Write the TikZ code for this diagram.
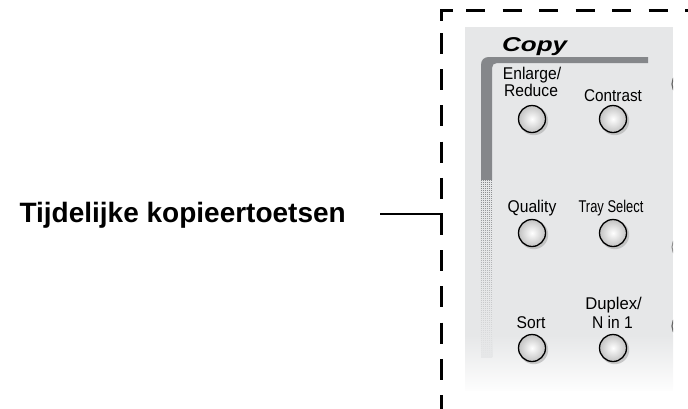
\documentclass[tikz,border=0pt]{standalone}
\usepackage{fontspec}
\setmainfont{Liberation Sans}
\usepackage{graphicx}
\definecolor{panel}{HTML}{E6E7E8}
\definecolor{framegray}{HTML}{85878A}
\begin{document}
\begin{tikzpicture}[x=1pt,y=-1pt,
  lbl/.style={font=\fontsize{17}{19}\selectfont, inner sep=0pt, anchor=base},
  btn/.style={circle, draw=black, line width=1.3pt, minimum size=27pt, inner sep=0pt, inner color=white, outer color=black!24},
  shadowdisk/.style={fill=black!35, opacity=0.55},
  dashline/.style={line width=3pt, black},
  leader/.style={line width=2.4pt, black}
]
\useasboundingbox (0,0) rectangle (688,408);
\clip (0,0) rectangle (688,408);

% panel
\fill[panel] (465,27) rectangle (673,390);
\shade[top color=panel, bottom color=white!92!panel] (465,335) rectangle (673,390);

% frame
\fill[framegray] (481,180) -- (481,65) .. controls (481,60) and (484,57) .. (489,57) -- (648,57) -- (648,63) -- (497,63) .. controls (494,63) and (492,65) .. (492,68) -- (492,180) -- cycle;
\shade[top color=framegray, bottom color=panel] (481,180) rectangle (492,357);
\foreach \yy in {181,183,...,357} \draw[panel, line width=0.5pt] (481,\yy) -- (492,\yy);
\foreach \xx in {482,484,...,492} \draw[panel, line width=0.5pt] (\xx,180) -- (\xx,357);

% slivers of next column buttons
\begin{scope}
\clip (465,27) rectangle (673,390);
\draw[black!60, line width=1.2pt] (685,84) circle (13);
\draw[black!45, line width=1pt] (685,247) circle (13);
\draw[black!60, line width=1.2pt] (685,326) circle (13);
\end{scope}

% Copy title
\node[font=\bfseries\itshape\fontsize{20}{22}\selectfont, anchor=base west, inner sep=0pt] (copy) at (502,51) {\scalebox{1.3}[1]{Copy}};

% labels
\node[lbl] (l1a) at (532,79) {\scalebox{0.92}[1]{Enlarge/}};
\node[lbl] (l1b) at (531,96) {\scalebox{0.92}[1]{Reduce}};
\node[lbl] (l2) at (613,101) {\scalebox{0.9}[1]{Contrast}};
\node[lbl] (l3) at (532,212) {\scalebox{0.92}[1]{Quality}};
\node[lbl] (l4) at (611,212) {\scalebox{0.76}[1]{Tray Select}};
\node[lbl] (l5) at (531,328) {\scalebox{0.92}[1]{Sort}};
\node[lbl] (l6a) at (613.5,309) {\scalebox{0.98}[1]{Duplex/}};
\node[lbl] (l6b) at (612.5,328) {\scalebox{0.92}[1]{N in 1}};

% buttons
\foreach \n/\bx/\by in {b1/532/119, b2/613/119, b3/532/233, b4/613/233, b5/532/348, b6/613/348}{
  \fill[shadowdisk] (\bx+1.8,\by+1.8) circle (14.4);
  \node[btn] (\n) at (\bx,\by) {};
}

% dashed boundary
\draw[dashline] (452.5,10) -- (441,10) -- (441,21);
\draw[dashline, dash pattern=on 19pt off 17.5pt] (466,10) -- (700,10);
\draw[dashline, dash pattern=on 21pt off 15.2pt] (441,33) -- (441,420);

% leader and text
\node[font=\bfseries\fontsize{28}{32}\selectfont, anchor=base east, inner sep=0pt] (lab) at (346,222) {Tijdelijke kopieertoetsen};
\coordinate (lstart) at (380,214);
\coordinate (tip) at (442.5,214);
\draw[leader] (lstart) -- (tip);
\end{tikzpicture}
\end{document}
